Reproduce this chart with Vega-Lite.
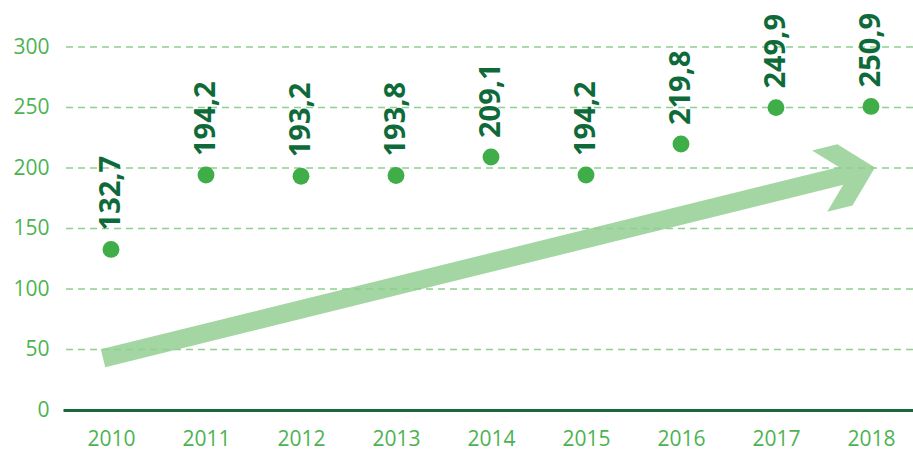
{
  "$schema": "https://vega.github.io/schema/vega-lite/v6.json",
  "width": 850,
  "height": 363,
  "autosize": "none",
  "padding": {"left": 63, "top": 47, "right": 0, "bottom": 40},
  "background": "white",
  "config": {
    "view": {"stroke": null},
    "font": "Open Sans",
    "axisX": {
      "title": null, "grid": false, "ticks": false,
      "domainColor": "#17693a", "domainWidth": 3,
      "labelColor": "#4cb352", "labelFontSize": 21, "labelPadding": 18,
      "labelFont": "Open Sans", "labelDx": 2
    },
    "axisY": {
      "title": null, "grid": false, "ticks": false, "domain": false,
      "labelColor": "#4cb352", "labelFontSize": 21, "labelPadding": 14,
      "labelFont": "Open Sans"
    }
  },
  "datasets": {
    "values": [
      {"year": 2010, "value": 132.7, "label": "132,7"},
      {"year": 2011, "value": 194.2, "label": "194,2"},
      {"year": 2012, "value": 193.2, "label": "193,2"},
      {"year": 2013, "value": 193.8, "label": "193,8"},
      {"year": 2014, "value": 209.1, "label": "209,1"},
      {"year": 2015, "value": 194.2, "label": "194,2"},
      {"year": 2016, "value": 219.8, "label": "219,8"},
      {"year": 2017, "value": 249.9, "label": "249,9"},
      {"year": 2018, "value": 250.9, "label": "250,9"}
    ],
    "shaft": [
      {"year": 2009.916, "value": 42.7},
      {"year": 2017.838, "value": 196.4}
    ],
    "head": [
      {"year": 2018.042, "value": 200.4}
    ],
    "grid": [
      {"value": 50}, {"value": 100}, {"value": 150},
      {"value": 200}, {"value": 250}, {"value": 300}
    ]
  },
  "layer": [
    {
      "data": {"name": "shaft"},
      "mark": {"type": "line", "color": "#a3d6a3", "strokeWidth": 18.5, "strokeCap": "butt"},
      "encoding": {
        "x": {"field": "year", "type": "quantitative",
              "scale": {"domain": [2009.4947, 2018.4421], "nice": false, "zero": false},
              "axis": {"values": [2010, 2011, 2012, 2013, 2014, 2015, 2016, 2017, 2018], "format": "d", "labelFlush": false}},
        "y": {"field": "value", "type": "quantitative",
              "scale": {"domain": [0, 300], "nice": false},
              "axis": {"values": [0, 50, 100, 150, 200, 250, 300]}}
      }
    },
    {
      "data": {"name": "head"},
      "mark": {"type": "point", "filled": true, "color": "#a3d6a3", "opacity": 1,
               "shape": "M0,0 L-0.544,-0.553 L-1,-0.553 L-0.456,0 L-1,0.553 L-0.544,0.553 Z",
               "size": 12996, "angle": -13.9},
      "encoding": {
        "x": {"field": "year", "type": "quantitative", "scale": {"domain": [2009.4947, 2018.4421], "nice": false, "zero": false}},
        "y": {"field": "value", "type": "quantitative", "scale": {"domain": [0, 300], "nice": false}}
      }
    },
    {
      "data": {"name": "grid"},
      "mark": {"type": "rule", "color": "#8fd08f", "strokeWidth": 1.3, "strokeDash": [7, 5]},
      "encoding": {
        "y": {"field": "value", "type": "quantitative", "scale": {"domain": [0, 300], "nice": false}}
      }
    },
    {
      "data": {"name": "values"},
      "mark": {"type": "circle", "color": "#3fae49", "opacity": 1, "size": 285},
      "encoding": {
        "x": {"field": "year", "type": "quantitative", "scale": {"domain": [2009.4947, 2018.4421], "nice": false, "zero": false}},
        "y": {"field": "value", "type": "quantitative", "scale": {"domain": [0, 300], "nice": false}}
      }
    },
    {
      "data": {"name": "values"},
      "mark": {"type": "text", "angle": 270, "align": "left", "baseline": "middle", "dx": 19,
               "font": "Open Sans", "fontSize": 29, "fontWeight": "bold", "color": "#0f6a3a"},
      "encoding": {
        "x": {"field": "year", "type": "quantitative", "scale": {"domain": [2009.4947, 2018.4421], "nice": false, "zero": false}},
        "y": {"field": "value", "type": "quantitative", "scale": {"domain": [0, 300], "nice": false}},
        "text": {"field": "label", "type": "nominal"}
      }
    }
  ]
}
